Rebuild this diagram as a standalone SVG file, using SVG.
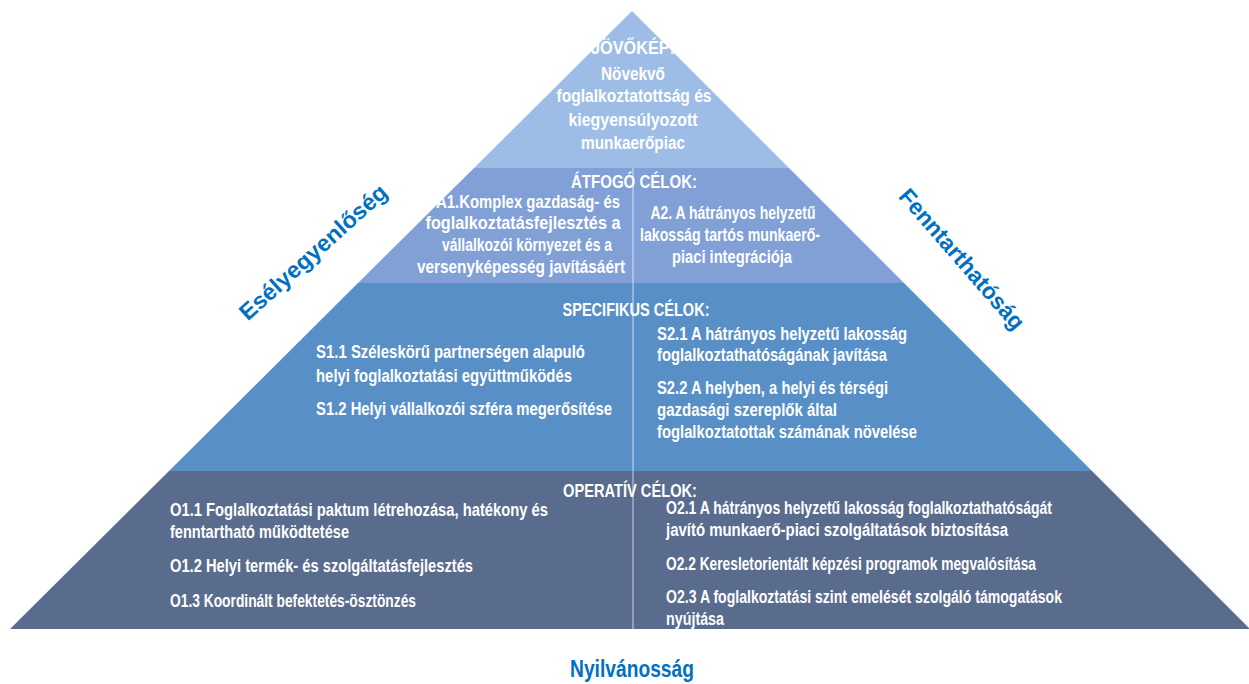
<svg xmlns="http://www.w3.org/2000/svg" width="1249" height="684" viewBox="0 0 1249 684">
<style>
.t{font-family:"Liberation Sans Narrow","Liberation Sans",Arial,sans-serif;font-weight:bold;font-size:18px;fill:#ffffff}
.c{text-anchor:middle}
.side{font-family:"Liberation Sans",Arial,sans-serif;font-weight:bold;font-size:23px;fill:#0070c0;text-anchor:middle}
</style>
<rect width="1249" height="684" fill="#ffffff"/>
<g id="band-jovokep">
<polygon points="632,11 789,168 474,168" fill="#9dbde6"/>
<text class="t c" x="633" y="54" textLength="84" lengthAdjust="spacingAndGlyphs">JÖVŐKÉP:</text>
<text class="t c" x="633" y="80" textLength="64" lengthAdjust="spacingAndGlyphs">Növekvő</text>
<text class="t c" x="634" y="102" textLength="155" lengthAdjust="spacingAndGlyphs">foglalkoztatottság és</text>
<text class="t c" x="633" y="126" textLength="129" lengthAdjust="spacingAndGlyphs">kiegyensúlyozott</text>
<text class="t c" x="633" y="149" textLength="104" lengthAdjust="spacingAndGlyphs">munkaerőpiac</text>
</g>
<g id="band-atfogo">
<polygon points="474,168 789,168 904,283 358,283" fill="#81a0d6"/>
<text class="t c" x="634" y="188" textLength="126" lengthAdjust="spacingAndGlyphs">ÁTFOGÓ CÉLOK:</text>
<text class="t c" x="528" y="208" textLength="184" lengthAdjust="spacingAndGlyphs">A1.Komplex gazdaság- és</text>
<text class="t c" x="523" y="229" textLength="195" lengthAdjust="spacingAndGlyphs">foglalkoztatásfejlesztés a</text>
<text class="t c" x="527" y="251" textLength="170" lengthAdjust="spacingAndGlyphs">vállalkozói környezet és a</text>
<text class="t c" x="521" y="273" textLength="208" lengthAdjust="spacingAndGlyphs">versenyképesség javításáért</text>
<text class="t c" x="733" y="219" textLength="165" lengthAdjust="spacingAndGlyphs">A2. A hátrányos helyzetű</text>
<text class="t c" x="730" y="241" textLength="180" lengthAdjust="spacingAndGlyphs">lakosság tartós munkaerő-</text>
<text class="t c" x="732" y="263" textLength="120" lengthAdjust="spacingAndGlyphs">piaci integrációja</text>
</g>
<g id="band-specifikus">
<polygon points="358,283 904,283 1092,471 169,471" fill="#588fc7"/>
<text class="t c" x="636" y="316" textLength="147" lengthAdjust="spacingAndGlyphs">SPECIFIKUS CÉLOK:</text>
<text class="t" x="316" y="358" textLength="269" lengthAdjust="spacingAndGlyphs">S1.1 Széleskörű partnerségen alapuló</text>
<text class="t" x="316" y="382" textLength="256" lengthAdjust="spacingAndGlyphs">helyi foglalkoztatási együttműködés</text>
<text class="t" x="316" y="415" textLength="296" lengthAdjust="spacingAndGlyphs">S1.2 Helyi vállalkozói szféra megerősítése</text>
<text class="t" x="657" y="340" textLength="250" lengthAdjust="spacingAndGlyphs">S2.1 A hátrányos helyzetű lakosság</text>
<text class="t" x="657" y="361" textLength="230" lengthAdjust="spacingAndGlyphs">foglalkoztathatóságának javítása</text>
<text class="t" x="657" y="394" textLength="231" lengthAdjust="spacingAndGlyphs">S2.2 A helyben, a helyi és térségi</text>
<text class="t" x="657" y="416" textLength="180" lengthAdjust="spacingAndGlyphs">gazdasági szereplők által</text>
<text class="t" x="657" y="438" textLength="260" lengthAdjust="spacingAndGlyphs">foglalkoztatottak számának növelése</text>
</g>
<g id="band-operativ">
<polygon points="169,471 1092,471 1250,629 10,629" fill="#5a6c8d"/>
<text class="t c" x="630" y="497" textLength="134" lengthAdjust="spacingAndGlyphs">OPERATÍV CÉLOK:</text>
<text class="t" x="170" y="516" textLength="378" lengthAdjust="spacingAndGlyphs">O1.1 Foglalkoztatási paktum létrehozása, hatékony és</text>
<text class="t" x="170" y="538" textLength="179" lengthAdjust="spacingAndGlyphs">fenntartható működtetése</text>
<text class="t" x="170" y="572" textLength="303" lengthAdjust="spacingAndGlyphs">O1.2 Helyi termék- és szolgáltatásfejlesztés</text>
<text class="t" x="170" y="607" textLength="246" lengthAdjust="spacingAndGlyphs">O1.3 Koordinált befektetés-ösztönzés</text>
<text class="t" x="666" y="514" textLength="386" lengthAdjust="spacingAndGlyphs">O2.1 A hátrányos helyzetű lakosság foglalkoztathatóságát</text>
<text class="t" x="666" y="536" textLength="342" lengthAdjust="spacingAndGlyphs">javító munkaerő-piaci szolgáltatások biztosítása</text>
<text class="t" x="666" y="570" textLength="370" lengthAdjust="spacingAndGlyphs">O2.2 Keresletorientált képzési programok megvalósítása</text>
<text class="t" x="666" y="603" textLength="396" lengthAdjust="spacingAndGlyphs">O2.3 A foglalkoztatási szint emelését szolgáló támogatások</text>
<text class="t" x="666" y="625" textLength="58" lengthAdjust="spacingAndGlyphs">nyújtása</text>
</g>
<g id="connectors">
<line x1="633" y1="168" x2="633" y2="629" stroke="#ffffff" stroke-opacity="0.7" stroke-width="1"/>
</g>
<g id="label-eselyegyenloseg">
<text class="side" transform="translate(313,252) rotate(-42)" dy="0.35em" textLength="190" lengthAdjust="spacingAndGlyphs">Esélyegyenlőség</text>
</g>
<g id="label-fenntarthatosag">
<text class="side" transform="translate(962,259) rotate(49)" dy="0.35em" textLength="178" lengthAdjust="spacingAndGlyphs">Fenntarthatóság</text>
</g>
<g id="label-nyilvanossag">
<text class="side" x="632" y="677" font-size="27" textLength="124" lengthAdjust="spacingAndGlyphs">Nyilvánosság</text>
</g>
</svg>
